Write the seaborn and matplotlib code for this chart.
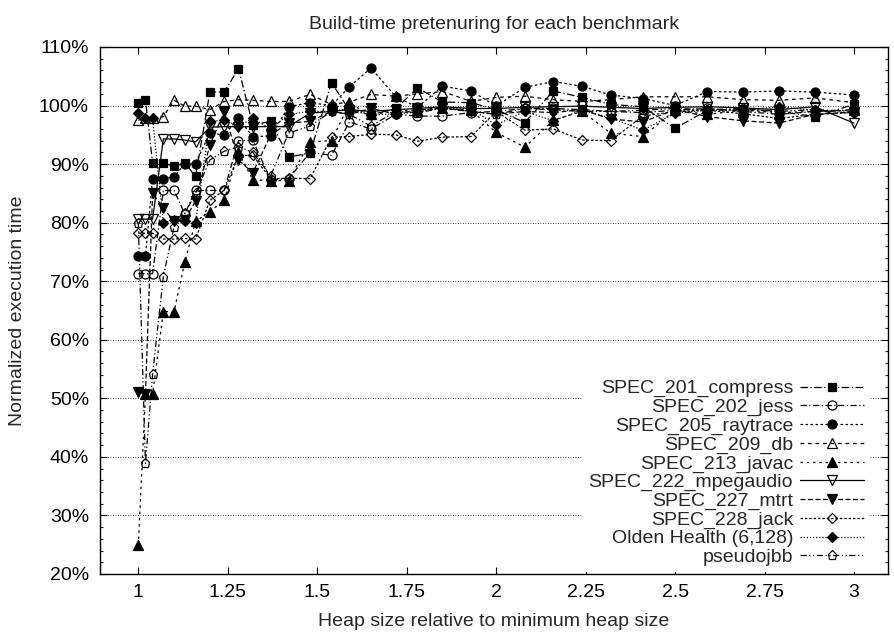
import matplotlib
matplotlib.use("Agg")
import matplotlib.pyplot as plt
import matplotlib.ticker as mticker
import seaborn as sns
import pandas as pd

# -------------------------------
# Data
# -------------------------------
heap_sizes = [1.00, 1.02, 1.04, 1.07, 1.10, 1.13, 1.16, 1.20, 1.24, 1.28, 1.32,
              1.37, 1.42, 1.48, 1.54, 1.59, 1.65, 1.72, 1.78, 1.85, 1.93, 2.00,
              2.08, 2.16, 2.24, 2.32, 2.41, 2.50, 2.59, 2.69, 2.79, 2.89, 3.00]

compress = [100.5, 101.0, 90.2, 90.2, 89.6, 90.2, 87.9, 102.3, 102.3, 106.3, 96.7,
            97.3, 91.2, 91.9, 103.9, 99.2, 98.4, 99.5, 103.0, 100.6, 100.5, 99.3,
            97.1, 102.5, 101.4, 100.2, 99.8, 96.1, 99.2, 99.3, 99.0, 98.1, 100.2]
jess = [71.3, 71.3, 71.3, 85.5, 85.5, 81.5, 85.5, 85.5, 85.5, 94.0, 94.1,
        87.3, 87.5, 92.0, 91.5, 97.2, 96.0, 98.5, 98.2, 98.2, 98.8, 99.0,
        99.5, 99.5, 99.3, 99.0, 98.8, 99.2, 99.5, 99.0, 98.5, 99.0, 99.3]
raytrace = [74.3, 74.3, 87.5, 87.5, 87.8, 90.1, 90.1, 95.3, 95.0, 97.8, 94.7,
            94.8, 99.8, 100.5, 100.0, 103.2, 106.4, 101.5, 99.7, 103.3, 102.5, 99.9,
            103.1, 104.1, 103.3, 101.8, 101.2, 100.0, 102.4, 102.3, 102.5, 102.3, 101.8]
db = [97.5, 97.9, 97.9, 98.1, 100.9, 99.9, 99.9, 99.3, 100.7, 101.0, 100.9,
      100.7, 100.7, 101.9, 100.2, 100.6, 101.9, 101.6, 102.0, 102.4, 100.7, 101.4,
      101.6, 101.0, 100.7, 101.0, 101.5, 101.5, 101.5, 101.0, 100.9, 101.3, 100.5]
javac = [24.9, 50.7, 50.7, 64.8, 64.8, 73.3, 80.2, 81.9, 83.8, 92.0, 87.3,
         87.2, 87.2, 93.8, 94.0, 100.3, 98.5, 99.0, 99.3, 99.5, 99.2, 95.4,
         92.9, 97.5, 99.0, 95.3, 94.7, 99.2, 98.5, 99.2, 98.8, 99.0, 99.2]
mpegaudio = [80.6, 80.6, 80.6, 94.3, 94.3, 94.1, 93.8, 96.3, 96.4, 96.4, 96.4,
             96.4, 96.4, 98.7, 99.0, 99.3, 99.0, 99.3, 99.5, 99.8, 99.5, 99.5,
             99.7, 99.8, 99.9, 99.7, 99.5, 99.7, 99.8, 99.6, 99.3, 99.8, 97.0]
mtrt = [51.1, 50.8, 85.0, 82.5, 80.2, 80.5, 83.7, 93.3, 98.9, 90.7, 88.5,
        95.0, 97.0, 97.3, 99.0, 98.5, 99.5, 98.6, 99.2, 99.6, 99.0, 98.5,
        99.0, 98.8, 99.3, 97.7, 97.2, 99.3, 98.1, 97.4, 97.0, 98.5, 98.9]
jack = [78.2, 78.2, 78.2, 77.2, 77.2, 77.3, 77.2, 83.8, 85.5, 91.5, 91.5,
        87.5, 87.6, 87.5, 94.6, 94.7, 95.1, 95.0, 93.9, 94.6, 94.7, 99.0,
        95.8, 96.0, 94.1, 94.0, 98.2, 99.0, 99.2, 98.6, 97.8, 98.5, 98.8]
olden = [98.8, 97.8, 97.8, 80.0, 80.4, 80.2, 80.0, 97.3, 97.5, 96.5, 97.8,
         96.0, 98.5, 99.0, 99.0, 99.5, 98.4, 98.6, 98.9, 99.6, 99.4, 96.7,
         99.0, 97.4, 99.2, 97.9, 95.8, 98.7, 99.2, 99.2, 99.8, 99.2, 98.7]
pseudojbb = [80.0, 38.9, 54.1, 70.8, 79.3, 81.6, 85.0, 90.7, 92.2, 93.0, 92.0,
             88.0, 95.3, 96.5, 99.0, 98.5, 96.5, 99.0, 98.8, 99.5, 99.0, 98.5,
             99.5, 99.3, 99.0, 99.0, 99.2, 99.5, 99.3, 99.5, 99.0, 99.3, 99.0]

series_names = ["SPEC_201_compress", "SPEC_202_jess", "SPEC_205_raytrace",
                "SPEC_209_db", "SPEC_213_javac", "SPEC_222_mpegaudio",
                "SPEC_227_mtrt", "SPEC_228_jack", "Olden Health (6,128)",
                "pseudojbb"]
series_values = [compress, jess, raytrace, db, javac, mpegaudio, mtrt, jack,
                 olden, pseudojbb]

y_ticks = [20, 30, 40, 50, 60, 70, 80, 90, 100, 110]
x_ticks = [1, 1.25, 1.5, 1.75, 2, 2.25, 2.5, 2.75, 3]
x_tick_labels = ["1", "1.25", "1.5", "1.75", "2", "2.25", "2.5", "2.75", "3"]

# -------------------------------
# Styles: (marker, filled, dash pattern, marker size)
# -------------------------------
styles = [
    ("s", True, (0, (6, 2, 1, 2)), 6.0),
    ("o", False, (0, (5, 2, 1, 2)), 6.5),
    ("o", True, (0, (2, 2)), 6.5),
    ("^", False, (0, (3, 3)), 6.5),
    ("^", True, (0, (2, 3)), 6.5),
    ("v", False, "-", 6.5),
    ("v", True, (0, (4, 2)), 6.5),
    ("D", False, (0, (2, 1.5)), 5.0),
    ("D", True, (0, (1, 1.5)), 5.0),
    ("p", False, (0, (5, 2, 1, 2, 1, 2)), 6.5),
]

rows = []
for name, vals in zip(series_names, series_values):
    for x, y in zip(heap_sizes, vals):
        rows.append({"benchmark": name, "heap": x, "time": y})
df = pd.DataFrame(rows)

# -------------------------------
# Plot
# -------------------------------
sns.set_theme(style="ticks")
plt.rcParams['font.family'] = ['Liberation Sans', 'DejaVu Sans']
fs = 14

fig = plt.figure(figsize=(8.94, 6.41), dpi=100)
ax = fig.add_axes([100 / 894, 1 - 574 / 641, 788 / 894, 527 / 641])

for name, (mk, filled, ls, ms) in zip(series_names, styles):
    sub = df[df["benchmark"] == name]
    sns.lineplot(data=sub, x="heap", y="time", ax=ax, color="black",
                 linestyle=ls, linewidth=0.9, marker=mk, markersize=ms,
                 markeredgewidth=0.9, markeredgecolor="black",
                 markerfacecolor="black" if filled else "none",
                 estimator=None, label=name)

ax.set_xlim(0.893, 3.095)
ax.set_ylim(20, 110)
ax.set_xticks(x_ticks)
ax.set_xticklabels(x_tick_labels)
ax.set_yticks(y_ticks)
ax.yaxis.set_major_formatter(mticker.FuncFormatter(lambda v, p: f"{int(round(v))}%"))
ax.yaxis.set_minor_locator(mticker.MultipleLocator(2))

ax.tick_params(axis="both", which="major", direction="in", length=5, width=0.8,
               labelsize=fs, colors="black", top=True, right=True)
ax.tick_params(axis="y", which="minor", direction="in", length=2.5, width=0.8,
               left=True, right=True)
ax.tick_params(axis="x", which="major", pad=7)
ax.tick_params(axis="y", which="major", pad=8)

for sp in ax.spines.values():
    sp.set_color("black")
    sp.set_linewidth(1.0)

ax.yaxis.grid(True, which="major", color="black", linestyle=(0, (1, 2)), linewidth=0.6)
ax.xaxis.grid(False)
ax.set_axisbelow(True)

ax.set_title("Build-time pretenuring for each benchmark", fontsize=fs, pad=13)
ax.set_xlabel("Heap size relative to minimum heap size", fontsize=fs, labelpad=9)
ax.set_ylabel("Normalized execution time", fontsize=fs, labelpad=9)

leg = ax.legend(loc="lower right", bbox_to_anchor=(0.977, 0.004), markerfirst=False,
                frameon=True, fancybox=False, edgecolor="none", facecolor="white",
                framealpha=1.0, fontsize=fs, handlelength=3.3, handletextpad=0.35,
                labelspacing=0.05, borderpad=0.3, borderaxespad=0)
leg.set_zorder(10)

fig.savefig("out.png", dpi=100)
